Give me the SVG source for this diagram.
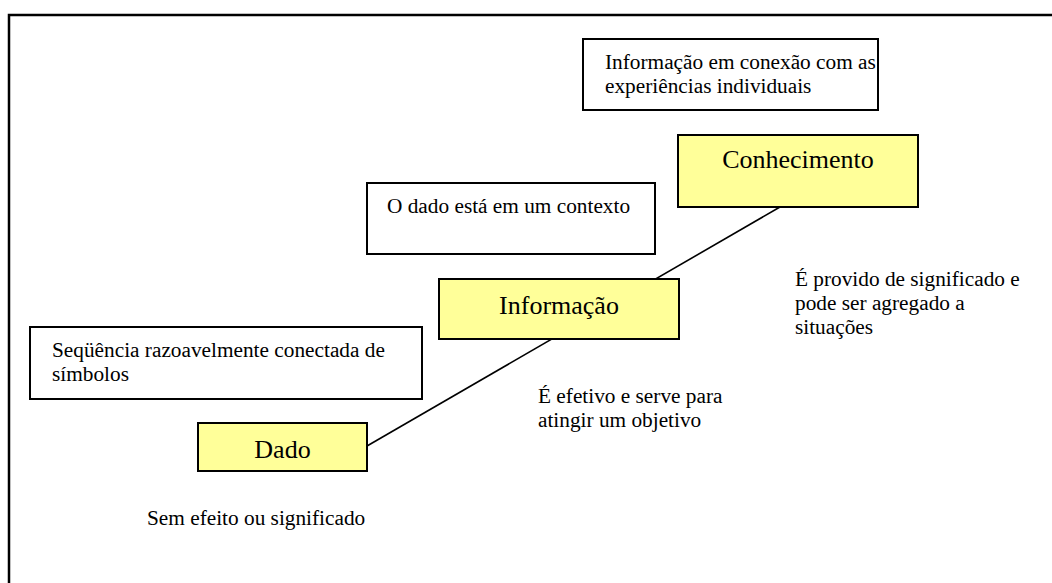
<svg xmlns="http://www.w3.org/2000/svg" width="1052" height="583" viewBox="0 0 1052 583">
<style>
text{font-family:"Liberation Serif","Times New Roman",serif;fill:#000}
.t{font-size:21.3px}
.big{font-size:26px}
.box{fill:#fff;stroke:#000;stroke-width:2}
.ybox{fill:#ffff99;stroke:#000;stroke-width:2}
.conn{stroke:#000;stroke-width:1.6;fill:none}
</style>
<rect width="1052" height="583" fill="#fff"/>
<path d="M9,590 V15 H1060" fill="none" stroke="#000" stroke-width="2.5"/>
<g id="connectors">
<line class="conn" x1="367" y1="446" x2="780" y2="207"/>
</g>
<g id="note-conhecimento">
<rect class="box" x="583" y="39" width="295" height="71"/>
<text class="t" x="605" y="69">Informação em conexão com as</text>
<text class="t" x="605" y="93">experiências individuais</text>
</g>
<g id="conhecimento">
<rect class="ybox" x="678" y="135" width="240" height="72"/>
<text class="big" x="798" y="168" text-anchor="middle">Conhecimento</text>
</g>
<g id="note-informacao">
<rect class="box" x="367" y="183" width="288" height="71"/>
<text class="t" x="387" y="213">O dado está em um contexto</text>
</g>
<g id="informacao">
<rect class="ybox" x="439" y="279" width="240" height="60"/>
<text class="big" x="559" y="314" text-anchor="middle">Informação</text>
</g>
<g id="note-dado">
<rect class="box" x="30" y="327" width="392" height="72"/>
<text class="t" x="52" y="357">Seqüência razoavelmente conectada de</text>
<text class="t" x="52" y="381">símbolos</text>
</g>
<g id="dado">
<rect class="ybox" x="198" y="423" width="169" height="48"/>
<text class="big" x="282.5" y="458" text-anchor="middle">Dado</text>
</g>
<g id="label-conhecimento">
<text class="t" x="795" y="286">É provido de significado e</text>
<text class="t" x="795" y="310">pode ser agregado a</text>
<text class="t" x="795" y="334">situações</text>
</g>
<g id="label-informacao">
<text class="t" x="538" y="403">É efetivo e serve para</text>
<text class="t" x="538" y="427">atingir um objetivo</text>
</g>
<g id="label-dado">
<text class="t" x="147" y="525">Sem efeito ou significado</text>
</g>
</svg>
